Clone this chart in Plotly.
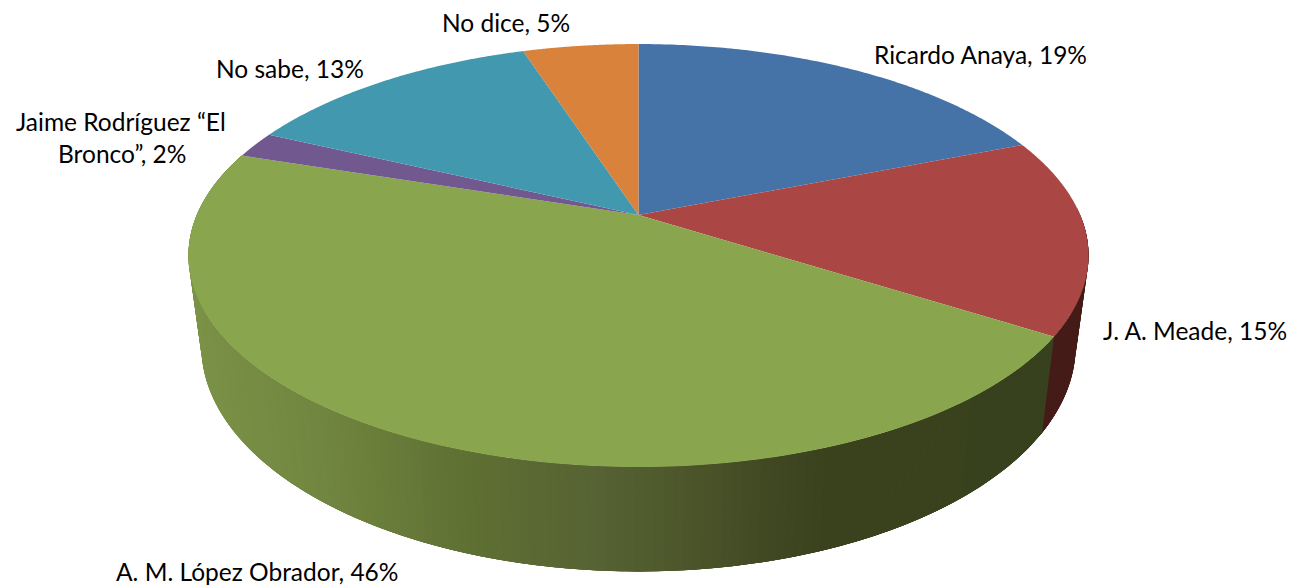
import numpy as np
import plotly.graph_objects as go

categories = ["Ricardo Anaya", "J. A. Meade", "A. M. López Obrador", "Jaime Rodríguez “El Bronco”", "No sabe", "No dice"]
values = [19, 15, 46, 2, 13, 5]
colors = ["#4572A7", "#AA4643", "#89A54E", "#71588F", "#4198AF", "#D9823B"]

# projection of the pie disc (perspective view)
CX, TOP_Y, TOP_A, TOP_B, K = 638.5, 215.0, 441.7, 203.7, 0.1915
BOT_Y, BOT_A, BOT_B = 303.0, 429.0, 217.0


def project(theta, cy, a, b):
    u, v = np.sin(theta), np.cos(theta)
    d = 1 + K * v
    return CX + a * u / d, cy - b * v / d


fractions = np.cumsum([0] + values) / sum(values)
angles = fractions * 2 * np.pi

fig = go.Figure()


def poly(xs, ys, color):
    fig.add_trace(go.Scatter(x=list(xs), y=list(ys), mode="none", fill="toself", fillcolor=color,
                             hoverinfo="skip", showlegend=False))


def hex2(c):
    return np.array([int(c[i:i + 2], 16) for i in (1, 3, 5)], float)


shade_x = [190, 330, 470, 600, 700, 780, 830, 1100]
shade_c = ["#7C9247", "#70853F", "#5F7033", "#566233", "#4B5429", "#3F4722", "#39411D", "#38411D"]


def side_color(x):
    rgb = [np.interp(x, shade_x, [hex2(c)[i] for c in shade_c]) for i in range(3)]
    return "rgb(%d,%d,%d)" % tuple(int(round(q)) for q in rgb)


def wall(start, end, steps, color_of):
    """Paint the side wall between two angles in strips that overlap the next one."""
    edges = np.linspace(start, end, steps + 1)
    for i in range(steps):
        t = np.linspace(edges[i], edges[min(i + 4, steps)], 6)
        xa, ya = project(t, TOP_Y, TOP_A, TOP_B)
        xb, yb = project(t, BOT_Y, BOT_A, BOT_B)
        poly(np.r_[xa, xb[::-1]], np.r_[ya, yb[::-1]], color_of((xa[:2].mean() + xb[:2].mean()) / 2))


# side wall: Meade piece runs from behind the right-hand edge of the disc to its end
meade_dark = "#451B18"
wall(np.radians(88), angles[2] + 0.02, 20, lambda x: meade_dark)
# side wall: López Obrador piece, shaded
wall(angles[2], angles[3], 160, side_color)

# top face
for i, c in enumerate(colors):
    t = np.linspace(angles[i], angles[i + 1], 120)
    x, y = project(t, TOP_Y, TOP_A, TOP_B)
    poly(np.r_[CX, x, CX], np.r_[TOP_Y, y, TOP_Y], c)

labels = [f"{n}, {v}%" for n, v in zip(categories, values)]
FONT = dict(family="Lato, Carlito, Calibri, sans-serif", size=24.5, color="#000000")
label_at = [(980, 54), (1195, 330), (257, 571), None, (290, 68), (506, 22)]
for text, pos in zip(labels, label_at):
    if pos:
        fig.add_annotation(x=pos[0], y=pos[1], text=text, showarrow=False, font=FONT, xanchor="center", yanchor="middle")
# the long label wraps after “El
cut = labels[3].index("“El") + 3
fig.add_annotation(x=121, y=121, text=labels[3][:cut], showarrow=False, font=FONT, xanchor="center", yanchor="middle")
fig.add_annotation(x=122, y=153, text=labels[3][cut + 1:], showarrow=False, font=FONT, xanchor="center", yanchor="middle")

fig.update_layout(width=1292, height=587, margin=dict(l=0, r=0, t=0, b=0), paper_bgcolor="white", plot_bgcolor="white",
                  showlegend=False,
                  xaxis=dict(range=[0, 1292], visible=False, fixedrange=True),
                  yaxis=dict(range=[587, 0], visible=False, fixedrange=True))
fig.write_html("out.html", config={"displayModeBar": False},
               post_script="document.body.style.margin='0';document.body.style.overflow='hidden';")
